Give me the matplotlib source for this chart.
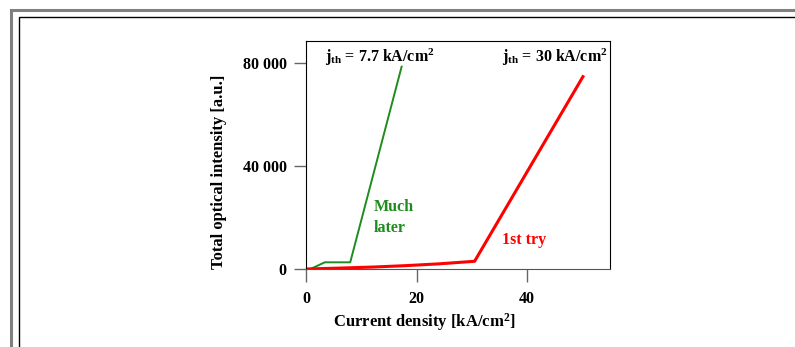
import matplotlib
matplotlib.use('Agg')
import matplotlib.pyplot as plt
from matplotlib.lines import Line2D

plt.rcParams['font.family'] = ['Liberation Serif', 'DejaVu Serif']
plt.rcParams['font.weight'] = 'bold'
plt.rcParams['mathtext.fontset'] = 'custom'
plt.rcParams['mathtext.rm'] = 'Liberation Serif:bold'
plt.rcParams['mathtext.bf'] = 'Liberation Serif:bold'
plt.rcParams['mathtext.it'] = 'Liberation Serif:bold'

# "Much later" device
later_x = [0.8, 3.4, 8.0, 17.3]
later_y = [0, 2600, 2600, 78700]

# "1st try" device
first_x = [0, 6, 12, 18, 24, 30.5, 50.1]
first_y = [0, 350, 750, 1300, 2000, 3000, 74800]

x_ticks = [0, 20, 40]
y_ticks = [0, 40000, 80000]
y_ticklabels = ['0', '40 000', '80 000']

W, H = 795, 347
fig = plt.figure(figsize=(W / 100, H / 100), dpi=100)

# page frame
fig.add_artist(Line2D([10.5 / W, 10.5 / W, 1], [0, 1 - 9.5 / H, 1 - 9.5 / H], transform=fig.transFigure,
                      color='#808080', lw=2.2, solid_joinstyle='miter'))
fig.add_artist(Line2D([18.5 / W, 18.5 / W, 1], [0, 1 - 16.5 / H, 1 - 16.5 / H], transform=fig.transFigure,
                      color='black', lw=1, solid_joinstyle='miter'))

ax = fig.add_axes([306 / W, 1 - 269 / H, 304 / W, 228.3 / H])
ax.plot(later_x, later_y, color='#1e8c1e', lw=1.4)
ax.plot(first_x, first_y, color='#ff0000', lw=2.2)

ax.set_xlim(0, 55)
ax.set_ylim(0, 88800)
ax.set_xticks(x_ticks)
ax.set_yticks(y_ticks)
ax.set_yticklabels(y_ticklabels)
ax.tick_params(direction='out', length=9, width=1, color='#666666', labelsize=11.5, pad=5)
ax.tick_params(axis='x', pad=7)
for s in ['top', 'right', 'left']:
    ax.spines[s].set_color('black')
ax.spines['bottom'].set_color('#555555')

ax.text(3.4, 82300, r'j$_{\mathrm{th}}$ = 7.7 kA/cm$^{\mathrm{2}}$', fontsize=11.5, fontweight='bold', va='center')
ax.text(54.5, 82300, r'j$_{\mathrm{th}}$ = 30 kA/cm$^{\mathrm{2}}$', fontsize=11.5, fontweight='bold', va='center', ha='right')
ax.text(12.3, 20000, 'Much\nlater', color='#1e8c1e', fontsize=11.5, fontweight='bold', va='center', linespacing=1.45)
ax.text(35.4, 9700, '1st try', color='#ff0000', fontsize=11.5, fontweight='bold', va='baseline')

fig.text(219 / W, 1 - 172 / H, 'Total optical intensity [a.u.]', rotation=90, ha='center', va='center', fontsize=12, fontweight='bold')
fig.text(424 / W, 1 - 322 / H, r'Current density [kA/cm$^{\mathrm{2}}$]', ha='center', va='center', fontsize=12, fontweight='bold')

fig.savefig('out.png', dpi=100)
